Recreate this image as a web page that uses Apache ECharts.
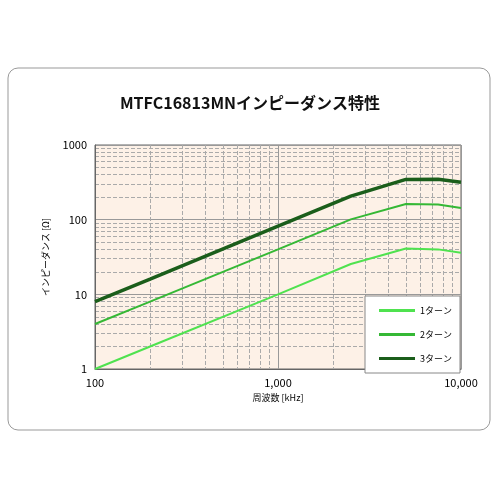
<!DOCTYPE html><html><head><meta charset="utf-8"><script src="https://cdn.jsdelivr.net/npm/echarts@6/dist/echarts.min.js"></script>
<style>body{margin:0;background:#fff}#c{width:500px;height:500px}</style></head><body><div id="c"></div><script>
const freq=[100,200,1000,2500,5000,7500,10000];
const turn1=[1,2,10,25.5,41,40,36];
const turn2=[4,8,40,101,162,160,143];
const turn3=[8,16,82,207,346,348,318];
const names=['1ターン','2ターン','3ターン'];
const colors=['#4fe24f','#35b835','#1b5e1b'];
const widths=[2,2,3.5];
const f='"Noto Sans CJK JP","Noto Sans",sans-serif';
const chart=echarts.init(document.getElementById('c'));
chart.setOption({
 animation:false,
 graphic:[{type:'rect',shape:{x:8,y:68,width:482,height:362,r:10},style:{fill:'none',stroke:'#999',lineWidth:1},z:-1}],
 title:{text:'MTFC16813MNインピーダンス特性',left:'center',top:90,textStyle:{fontFamily:f,fontSize:16,fontWeight:'bold',color:'#111'}},
 grid:{left:95,right:39,top:145,bottom:131,backgroundColor:'#fdf1e7',show:true,borderColor:'#666',borderWidth:1},
 legend:{orient:'vertical',right:40,top:296,itemGap:15,itemWidth:36,itemHeight:3,backgroundColor:'#fff',borderColor:'#888',borderWidth:1,borderRadius:0,padding:[10,8,10,14],textStyle:{fontFamily:f,fontSize:9,color:'#000'},icon:'rect',data:names},
 xAxis:{type:'log',logBase:10,min:100,max:10000,name:'周波数 [kHz]',nameLocation:'middle',nameGap:24,nameTextStyle:{fontFamily:f,fontSize:9,color:'#000'},
  axisLine:{lineStyle:{color:'#666'}},axisTick:{show:false},
  axisLabel:{fontFamily:f,fontSize:11,color:'#000',formatter:v=>v.toLocaleString('en-US')},
  splitLine:{show:true,lineStyle:{color:'#999',width:1}},
  minorTick:{show:false,splitNumber:9},minorSplitLine:{show:true,lineStyle:{color:'#aaa',type:'dashed'}}},
 yAxis:{type:'log',logBase:10,min:1,max:1000,name:'インピーダンス [Ω]',nameLocation:'middle',nameGap:45,nameTextStyle:{fontFamily:f,fontSize:9,color:'#000'},
  axisLine:{lineStyle:{color:'#666'}},axisTick:{show:false},
  axisLabel:{fontFamily:f,fontSize:11,color:'#000',formatter:v=>String(v)},
  splitLine:{show:true,lineStyle:{color:'#999',width:1}},
  minorTick:{show:false,splitNumber:9},minorSplitLine:{show:true,lineStyle:{color:'#aaa',type:'dashed'}}},
 series:[turn1,turn2,turn3].map((d,i)=>({name:names[i],type:'line',showSymbol:false,data:freq.map((x,j)=>[x,d[j]]),lineStyle:{color:colors[i],width:widths[i]},itemStyle:{color:colors[i]}}))
});
</script></body></html>
